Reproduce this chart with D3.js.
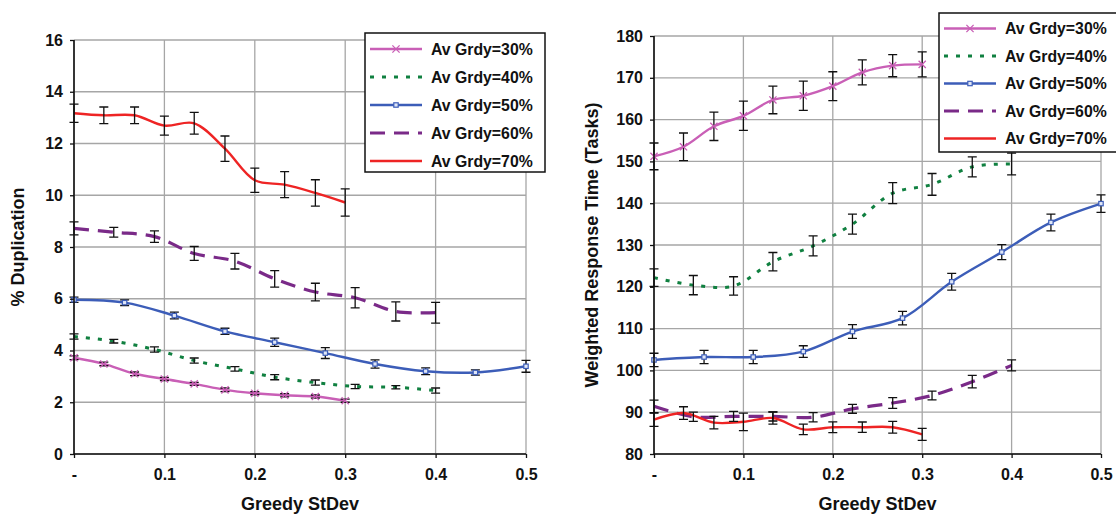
<!DOCTYPE html>
<html>
<head>
<meta charset="utf-8">
<script src="https://cdn.jsdelivr.net/npm/d3@7"></script>
<style>
  html, body { margin: 0; padding: 0; background: #fff; }
  svg { display: block; }
  text { font-family: "Liberation Sans", Arial, Helvetica, sans-serif; font-weight: bold; fill: #111; }
</style>
</head>
<body>
<svg id="chart" width="1116" height="515"></svg>
<script>
// ---- shared axis data ----
const xTicks = [0, 0.1, 0.2, 0.3, 0.4, 0.5];
const xTickLabels = ["-", "0.1", "0.2", "0.3", "0.4", "0.5"];
const seriesNames = ["Av Grdy=30%", "Av Grdy=40%", "Av Grdy=50%", "Av Grdy=60%", "Av Grdy=70%"];

// Greedy StDev sample points per average-greedy level
const x30 = [0, 0.033, 0.067, 0.1, 0.133, 0.167, 0.2, 0.233, 0.267, 0.3];
const x40 = [0, 0.044, 0.089, 0.133, 0.178, 0.222, 0.267, 0.311, 0.356, 0.4];
const x50 = [0, 0.056, 0.111, 0.167, 0.222, 0.278, 0.333, 0.389, 0.444, 0.5];
const x60 = [0, 0.044, 0.089, 0.133, 0.178, 0.222, 0.267, 0.311, 0.356, 0.4];
const x70 = [0, 0.033, 0.067, 0.1, 0.133, 0.167, 0.2, 0.233, 0.267, 0.3];

// ---- % Duplication ----
const dupTicks = [0, 2, 4, 6, 8, 10, 12, 14, 16];
const dup30 = [3.72, 3.48, 3.10, 2.90, 2.71, 2.48, 2.35, 2.27, 2.22, 2.06];
const dup40 = [4.54, 4.36, 4.04, 3.61, 3.29, 2.97, 2.76, 2.61, 2.58, 2.45];
const dup50 = [5.96, 5.85, 5.35, 4.74, 4.32, 3.90, 3.48, 3.20, 3.15, 3.39];
const dup60 = [8.72, 8.57, 8.40, 7.75, 7.45, 6.77, 6.26, 6.04, 5.51, 5.46];
const dup70 = [13.17, 13.09, 13.09, 12.69, 12.78, 11.80, 10.58, 10.41, 10.09, 9.72];
const dupErr30 = [0.07, 0.07, 0.07, 0.06, 0.06, 0.07, 0.06, 0.06, 0.06, 0.06];
const dupErr40 = [0.10, 0.07, 0.10, 0.10, 0.09, 0.10, 0.10, 0.08, 0.06, 0.10];
const dupErr50 = [0.10, 0.11, 0.13, 0.12, 0.16, 0.21, 0.16, 0.13, 0.10, 0.23];
const dupErr60 = [0.25, 0.19, 0.22, 0.27, 0.30, 0.32, 0.34, 0.39, 0.37, 0.40];
const dupErr70 = [0.35, 0.32, 0.32, 0.37, 0.42, 0.49, 0.47, 0.50, 0.51, 0.53];

// ---- Weighted Response Time (Tasks) ----
const wrtTicks = [80, 90, 100, 110, 120, 130, 140, 150, 160, 170, 180];
const wrt30 = [151.2, 153.5, 158.4, 160.9, 164.7, 165.7, 168.0, 171.3, 172.9, 173.2];
const wrt40 = [122.2, 120.4, 120.2, 126.0, 129.8, 135.0, 142.4, 144.5, 148.7, 149.4];
const wrt50 = [102.5, 103.2, 103.2, 104.5, 109.3, 112.5, 121.2, 128.3, 135.4, 139.9];
const wrt60 = [91.4, 88.9, 89.0, 89.0, 88.8, 90.8, 92.2, 94.0, 97.3, 101.2];
const wrt70 = [88.2, 89.8, 87.5, 87.7, 88.6, 85.9, 86.4, 86.4, 86.4, 84.7];
const wrtErr30 = [3.2, 3.3, 3.4, 3.5, 3.3, 3.5, 3.45, 3.0, 2.65, 3.0];
const wrtErr40 = [2.1, 2.3, 2.2, 2.2, 2.4, 2.4, 2.5, 2.6, 2.4, 2.6];
const wrtErr50 = [1.6, 1.6, 1.6, 1.4, 1.65, 1.6, 2.0, 1.8, 2.0, 2.1];
const wrtErr60 = [1.5, 1.1, 1.2, 1.1, 1.1, 1.05, 1.3, 1.05, 1.5, 1.3];
const wrtErr70 = [1.6, 1.5, 1.5, 2.1, 1.45, 1.25, 1.3, 1.25, 1.4, 1.45];

// ---- series styles ----
const styles = [
  { color: "#C95FB6", width: 2.4, dash: null, marker: "x" },
  { color: "#108040", width: 3, dash: "4,8", marker: null },
  { color: "#3C5DB8", width: 2.4, dash: null, marker: "square" },
  { color: "#7A2A88", width: 3.2, dash: "15,9", marker: null },
  { color: "#EE2424", width: 2.4, dash: null, marker: null }
];

const svg = d3.select("#chart");
const TICK_FONT = 16;
const TITLE_FONT = 18;
const LEGEND_FONT = 15.8;

function zipSeries(xs, ys, es) {
  return xs.map((x, i) => ({ x: x, y: ys[i], e: es[i] }));
}

function drawMarker(g, type, cx, cy, color) {
  if (type === "x") {
    const s = 3.6;
    g.append("path")
      .attr("d", `M${cx - s},${cy - s}L${cx + s},${cy + s}M${cx - s},${cy + s}L${cx + s},${cy - s}`)
      .attr("stroke", color).attr("stroke-width", 1.3).attr("fill", "none");
  } else if (type === "square") {
    g.append("rect")
      .attr("x", cx - 2.2).attr("y", cy - 2.2).attr("width", 4.4).attr("height", 4.4)
      .attr("fill", "#dfe6f6").attr("stroke", color).attr("stroke-width", 1.2);
  }
}

function drawPanel(cfg) {
  const x = d3.scaleLinear().domain([0, 0.5]).range([cfg.left, cfg.right]);
  const y = d3.scaleLinear().domain(cfg.yDomain).range([cfg.bottom, cfg.top]);
  const g = svg.append("g");

  // gridlines
  const grid = g.append("g").attr("stroke", "#A6A6A6").attr("stroke-width", 1.3);
  cfg.yTicks.forEach(t => {
    grid.append("line").attr("x1", cfg.left).attr("x2", cfg.right)
      .attr("y1", y(t)).attr("y2", y(t));
  });
  xTicks.forEach(t => {
    grid.append("line").attr("x1", x(t)).attr("x2", x(t))
      .attr("y1", cfg.top).attr("y2", cfg.bottom);
  });

  // series lines
  const line = d3.line().x(d => x(d.x)).y(d => y(d.y)).curve(d3.curveCatmullRom.alpha(0.5));
  cfg.series.forEach((s, i) => {
    const st = styles[i];
    g.append("path").datum(s)
      .attr("d", line)
      .attr("fill", "none")
      .attr("stroke", st.color)
      .attr("stroke-width", st.width)
      .attr("stroke-dasharray", st.dash)
      .attr("stroke-linecap", "butt");
  });

  // error bars
  const eb = g.append("g").attr("stroke", "#111").attr("stroke-width", 1.3).attr("fill", "none");
  cfg.series.forEach(s => {
    s.forEach(d => {
      const px = x(d.x), y0 = y(d.y - d.e), y1 = y(d.y + d.e);
      eb.append("path").attr("d",
        `M${px},${y0}V${y1}M${px - 4.5},${y0}H${px + 4.5}M${px - 4.5},${y1}H${px + 4.5}`);
    });
  });

  // markers
  cfg.series.forEach((s, i) => {
    const st = styles[i];
    if (!st.marker) return;
    s.forEach(d => drawMarker(g, st.marker, x(d.x), y(d.y), st.color));
  });

  // axes
  const yAxis = d3.axisLeft(y).tickValues(cfg.yTicks).tickSize(4).tickPadding(7);
  const ya = g.append("g").attr("transform", `translate(${cfg.left},0)`).call(yAxis);
  const xAxis = d3.axisBottom(x).tickValues(xTicks).tickSize(4).tickPadding(11)
    .tickFormat((d, i) => xTickLabels[i]);
  const xa = g.append("g").attr("transform", `translate(0,${cfg.bottom})`).call(xAxis);
  [ya, xa].forEach(a => {
    a.select(".domain").attr("stroke", "#111").attr("stroke-width", 1.6);
    a.selectAll(".tick line").attr("stroke", "#111").attr("stroke-width", 1.3);
    a.selectAll(".tick text").style("font-size", TICK_FONT + "px").attr("fill", "#111")
      .style("font-family", "'Liberation Sans', Arial, sans-serif").style("font-weight", "bold");
  });
  ya.select(".domain").attr("d", `M0,${cfg.top}V${cfg.bottom}`);
  xa.select(".domain").attr("d", `M${cfg.left},0H${cfg.right}`);
  xa.selectAll(".tick line").attr("y1", 0);

  // axis titles
  g.append("text")
    .attr("x", (cfg.left + cfg.right) / 2).attr("y", 510)
    .attr("text-anchor", "middle").style("font-size", TITLE_FONT + "px")
    .text("Greedy StDev");
  g.append("text")
    .attr("transform", `translate(${cfg.yTitleX},${(cfg.top + cfg.bottom) / 2}) rotate(-90)`)
    .attr("text-anchor", "middle").style("font-size", TITLE_FONT + "px")
    .text(cfg.yTitle);

  // legend
  const lg = g.append("g");
  lg.append("rect")
    .attr("x", cfg.legend.x).attr("y", cfg.legend.y)
    .attr("width", cfg.legend.w).attr("height", cfg.legend.h)
    .attr("fill", "#fff").attr("stroke", "#111").attr("stroke-width", 1.5);
  seriesNames.forEach((name, i) => {
    const st = styles[i];
    const cy = cfg.legend.y + cfg.legend.row0 + i * cfg.legend.step;
    const lx0 = cfg.legend.x + 5, lx1 = cfg.legend.x + 57;
    lg.append("line")
      .attr("x1", lx0).attr("x2", lx1).attr("y1", cy).attr("y2", cy)
      .attr("stroke", st.color).attr("stroke-width", st.width)
      .attr("stroke-dasharray", st.dash);
    if (st.marker) drawMarker(lg, st.marker, (lx0 + lx1) / 2, cy, st.color);
    lg.append("text")
      .attr("x", cfg.legend.x + 66).attr("y", cy + 5.6)
      .style("font-size", LEGEND_FONT + "px")
      .text(name);
  });
}

const dupSeries = [
  zipSeries(x30, dup30, dupErr30),
  zipSeries(x40, dup40, dupErr40),
  zipSeries(x50, dup50, dupErr50),
  zipSeries(x60, dup60, dupErr60),
  zipSeries(x70, dup70, dupErr70)
];
const wrtSeries = [
  zipSeries(x30, wrt30, wrtErr30),
  zipSeries(x40, wrt40, wrtErr40),
  zipSeries(x50, wrt50, wrtErr50),
  zipSeries(x60, wrt60, wrtErr60),
  zipSeries(x70, wrt70, wrtErr70)
];

drawPanel({
  left: 74, right: 526, top: 40, bottom: 454,
  yDomain: [0, 16], yTicks: dupTicks,
  yTitle: "% Duplication", yTitleX: 24,
  series: dupSeries,
  legend: { x: 365, y: 33, w: 180, h: 139, row0: 16, step: 28 }
});

drawPanel({
  left: 654, right: 1101, top: 36, bottom: 454,
  yDomain: [80, 180], yTicks: wrtTicks,
  yTitle: "Weighted Response Time (Tasks)", yTitleX: 598,
  series: wrtSeries,
  legend: { x: 939, y: 13, w: 185, h: 139, row0: 15.5, step: 27.5 }
});
</script>
</body>
</html>
